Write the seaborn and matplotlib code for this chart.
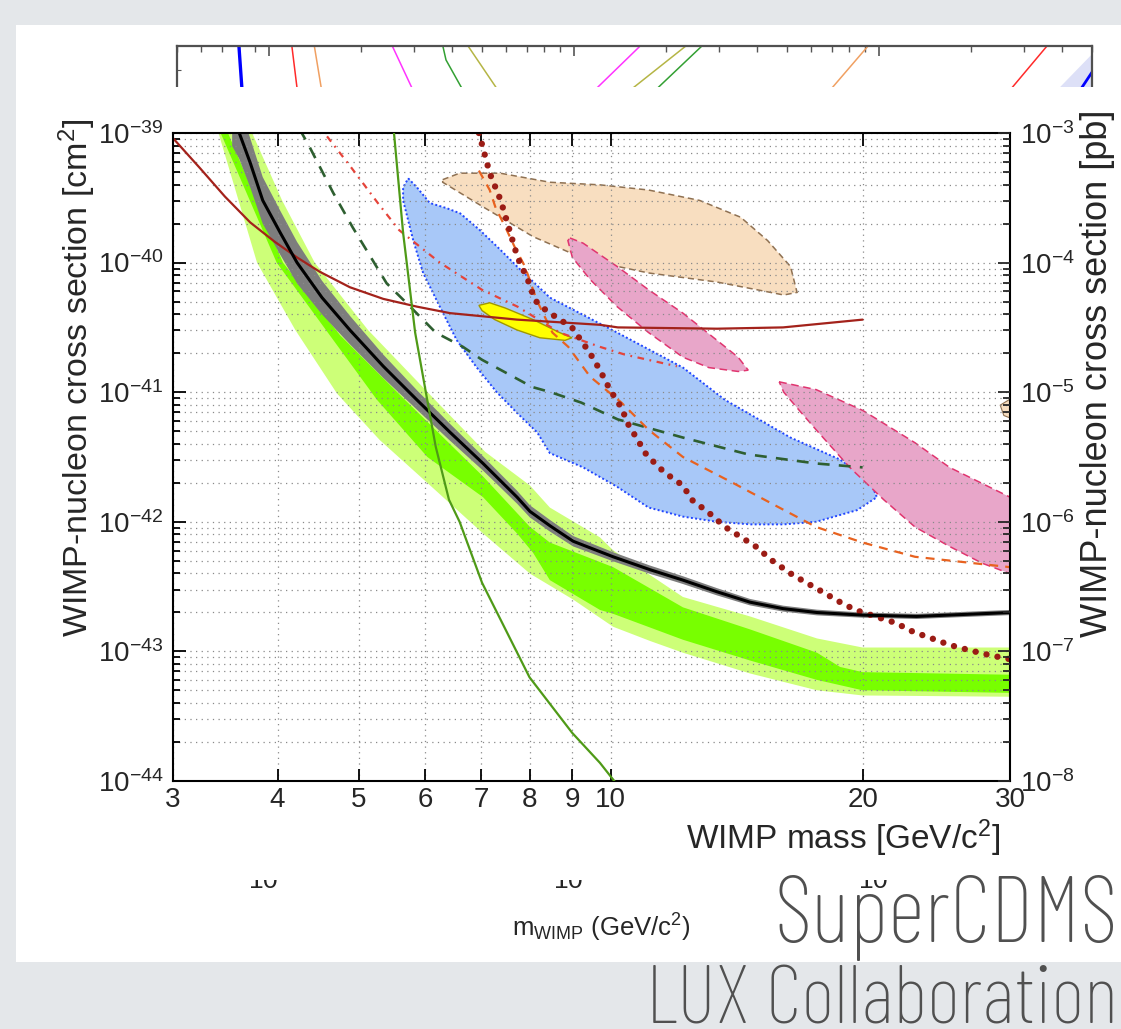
import numpy as np
import matplotlib
matplotlib.use("Agg")
import matplotlib.pyplot as plt
import matplotlib.ticker as mticker
from matplotlib.patches import Rectangle
from matplotlib import font_manager as fm
import seaborn as sns

# ------------------------------------------------------------------ data
X_TICKS = [3, 4, 5, 6, 7, 8, 9, 10, 20, 30]
Y_EXP_CM2 = [-44, -43, -42, -41, -40, -39]
Y_EXP_PB = [-8, -7, -6, -5, -4, -3]

# LUX-like limit (black) and its grey band half-width (decades)
LUX_M = [3.53, 3.60, 3.71, 3.84, 4.03, 4.22, 4.52, 4.88, 5.35, 5.87, 6.43, 7.04, 7.73, 8.01, 8.46, 9.02, 10.07, 11.15, 12.2, 13.4, 14.67, 16.07, 17.64, 20.0, 23.2, 30.0, 31.7]
LUX_LOG = [-38.90, -39.0, -39.23, -39.52, -39.77, -40.0, -40.27, -40.52, -40.80, -41.06, -41.31, -41.55, -41.81, -41.92, -42.03, -42.15, -42.27, -42.37, -42.45, -42.54, -42.62, -42.67, -42.70, -42.72, -42.73, -42.70, -42.70]
LUX_HW = [0.2, 0.2, 0.19, 0.18, 0.17, 0.16, 0.13, 0.11, 0.09, 0.075, 0.065, 0.055, 0.05, 0.047, 0.045, 0.04, 0.035, 0.032, 0.03, 0.028, 0.025, 0.023, 0.022, 0.02, 0.02, 0.02, 0.02]

# expected-sensitivity bands (light = 2 sigma, bright = 1 sigma)
LIGHT_UP_M = [3.67, 3.73, 4.05, 4.43, 5.13, 6.17, 7.08, 8.01, 8.46, 9.71, 10.07, 12.2, 14.67, 17.64, 20.0, 30.0, 31.7]
LIGHT_UP_LOG = [-38.90, -39.0, -39.52, -40.0, -40.52, -41.06, -41.46, -41.72, -41.89, -42.12, -42.22, -42.58, -42.73, -42.90, -42.97, -42.97, -42.97]
LIGHT_LO_M = [3.32, 3.40, 3.78, 4.20, 4.71, 5.30, 6.04, 7.04, 8.01, 9.02, 10.07, 11.15, 12.2, 14.67, 17.64, 20.0, 30.0, 31.7]
LIGHT_LO_LOG = [-38.82, -39.0, -40.0, -40.52, -41.01, -41.37, -41.70, -42.09, -42.40, -42.60, -42.81, -42.92, -43.01, -43.17, -43.30, -43.34, -43.35, -43.35]
BRIGHT_UP_M = [3.43, 3.49, 4.06, 4.75, 5.68, 7.04, 8.01, 8.46, 10.07, 12.2, 14.67, 17.64, 18.8, 20.0, 30.0, 31.7]
BRIGHT_UP_LOG = [-38.90, -39.0, -40.0, -40.56, -41.06, -41.65, -42.04, -42.16, -42.35, -42.66, -42.83, -43.01, -43.12, -43.16, -43.18, -43.18]
BRIGHT_LO_M = [3.37, 3.42, 3.99, 5.26, 6.04, 7.04, 7.73, 8.08, 8.46, 9.71, 10.07, 12.2, 14.67, 17.64, 20.0, 30.0, 31.7]
BRIGHT_LO_LOG = [-38.90, -39.0, -40.0, -41.06, -41.50, -41.81, -42.09, -42.24, -42.45, -42.68, -42.71, -42.91, -43.07, -43.22, -43.30, -43.32, -43.32]

# other limit curves
BROWN_M = [3.0, 3.23, 3.46, 3.71, 3.97, 4.22, 4.49, 4.88, 5.35, 5.87, 6.43, 7.73, 9.71, 10.2, 13.4, 16.07, 20.0]
BROWN_LOG = [-39.04, -39.27, -39.49, -39.69, -39.84, -39.96, -40.07, -40.19, -40.28, -40.34, -40.39, -40.44, -40.48, -40.50, -40.51, -40.50, -40.44]
GREEN_M = [5.45, 5.51, 5.65, 5.84, 6.03, 6.18, 6.41, 6.6, 7.02, 8.0, 9.0, 9.71, 10.1, 10.9]
GREEN_LOG = [-38.8, -39.0, -39.77, -40.54, -41.04, -41.42, -41.83, -42.0, -42.47, -43.20, -43.63, -43.86, -44.0, -44.23]
DKGREEN_M = [4.25, 4.37, 4.66, 4.92, 5.40, 5.70, 6.18, 6.66, 7.02, 8.06, 8.48, 9.22, 10.2, 12.2, 14.6, 17.6, 20.0]
DKGREEN_LOG = [-38.97, -39.11, -39.46, -39.73, -40.16, -40.31, -40.54, -40.65, -40.75, -40.96, -41.0, -41.08, -41.21, -41.35, -41.48, -41.55, -41.58]
REDDD_M = [4.45, 4.55, 4.89, 5.27, 5.59, 6.25, 7.02, 7.74, 8.69, 9.71, 10.4, 12.0]
REDDD_LOG = [-38.9, -39.0, -39.26, -39.54, -39.75, -40.0, -40.21, -40.34, -40.54, -40.65, -40.71, -40.80]
ORANGE_M = [6.96, 7.17, 7.29, 7.49, 7.68, 7.9, 8.16, 8.52, 8.9, 9.45, 10.3, 11.1, 12.2, 14.0, 15.9, 17.6, 20, 23.1, 30]
ORANGE_LOG = [-39.29, -39.44, -39.58, -39.73, -39.88, -40.03, -40.29, -40.54, -40.65, -40.88, -41.08, -41.29, -41.50, -41.70, -41.89, -42.04, -42.16, -42.27, -42.35]
DOTS_M = [6.96, 7.17, 7.39, 7.58, 7.74, 7.96, 8.12, 8.3, 8.6, 8.99, 9.45, 9.71, 9.98, 10.3, 10.5, 10.8, 11.0, 11.3, 11.6, 12.2, 12.5, 13.1, 13.7, 14.9, 15.6, 16.5, 17.9, 18.8, 19.6, 20.7, 21.9, 23.0, 24.2, 25.4, 26.8, 28.4, 30]
DOTS_LOG = [-39.0, -39.31, -39.52, -39.76, -39.96, -40.13, -40.29, -40.35, -40.42, -40.50, -40.70, -40.83, -40.98, -41.12, -41.25, -41.38, -41.47, -41.55, -41.62, -41.72, -41.83, -41.93, -42.04, -42.19, -42.30, -42.41, -42.54, -42.62, -42.68, -42.73, -42.78, -42.85, -42.90, -42.95, -42.99, -43.03, -43.06]

# signal regions (closed contours)
TAN_M = [6.30, 6.6, 7.38, 8.46, 9.71, 11.1, 12.77, 14.3, 15.4, 16.4, 16.7, 16.1, 14.7, 13.4, 11.1, 9.37, 8.08, 7.04, 6.30]
TAN_LOG = [-39.36, -39.31, -39.31, -39.38, -39.40, -39.44, -39.52, -39.65, -39.83, -40.03, -40.23, -40.25, -40.20, -40.15, -40.08, -39.98, -39.80, -39.57, -39.38]
BLUE_M = [5.73, 5.87, 6.08, 6.37, 6.61, 6.98, 7.38, 7.73, 8.46, 10.18, 12.2, 13.7, 16.4, 18.8, 20.4, 20.8, 19.7, 17.6, 16.1, 14.7, 13.4, 12.2, 11.1, 10.18, 9.27, 8.46, 8.17, 7.73, 7.31, 6.92, 6.55, 6.25, 5.97, 5.81, 5.65, 5.65]
BLUE_LOG = [-39.35, -39.42, -39.54, -39.58, -39.62, -39.75, -39.90, -40.03, -40.27, -40.54, -40.81, -41.06, -41.35, -41.52, -41.68, -41.81, -41.91, -42.00, -42.02, -42.02, -42.00, -41.96, -41.89, -41.73, -41.58, -41.47, -41.31, -41.16, -41.0, -40.81, -40.60, -40.34, -40.08, -39.83, -39.52, -39.42]
PINK1_M = [8.94, 9.27, 10.18, 11.1, 12.2, 13.4, 14.2, 14.6, 14.2, 13.1, 12.2, 11.1, 10.18, 9.45, 9.0, 8.89]
PINK1_LOG = [-39.81, -39.85, -40.03, -40.21, -40.39, -40.60, -40.73, -40.83, -40.84, -40.81, -40.73, -40.54, -40.34, -40.13, -39.96, -39.83]
PINK2_M = [15.9, 17.6, 20.0, 23.1, 25.4, 30.0, 31.9, 31.9, 30.0, 27.8, 25.4, 23.1, 21.2, 19.3, 17.6, 16.8, 16.1]
PINK2_LOG = [-40.92, -40.98, -41.14, -41.39, -41.58, -41.81, -41.89, -42.46, -42.40, -42.32, -42.19, -42.04, -41.83, -41.58, -41.29, -41.14, -41.0]
YELLOW_M = [6.96, 7.17, 7.48, 8.08, 8.69, 8.99, 8.82, 8.23, 7.73, 7.27, 7.02]
YELLOW_LOG = [-40.33, -40.31, -40.35, -40.44, -40.54, -40.58, -40.60, -40.58, -40.52, -40.44, -40.37]
TAN2_M = [29.2, 30.6, 30.6, 29.5]
TAN2_LOG = [-41.10, -41.02, -41.22, -41.18]

# background (partly hidden) plot: visible line pieces near its top
BK_Y = [1.0, 0.946]
BK_Y3 = [1.0, 0.983, 0.946]
BK_BLUE_M = [7.98, 8.17]
BK_RED_M = [11.9, 12.4]
BK_ORANGE_M = [14.1, 14.9]
BK_MAGENTA_M = [25.4, 29.7]
BK_GREEN_M = [37.2, 38.1, 43.3]
BK_OLIVE_M = [45.0, 56.4]
BK_MAGENTA2_M = [165, 117]
BK_OLIVE2_M = [233, 153]
BK_GREEN2_M = [263, 185]
BK_ORANGE2_M = [922, 692]
BK_RED2_M = [3560, 2690]
BK_BLUEFILL_M = [3840, 5000, 5000]
BK_BLUEFILL_Y = [0.946, 0.99, 0.946]
BK_BLUELINE_M = [5000, 4570]
BK_BLUELINE_Y = [0.968, 0.946]

# ------------------------------------------------------------------ fonts
names = sorted({f.name for f in fm.fontManager.ttflist})
def pick(cands, default):
    for c in cands:
        if c in names:
            return c
    return default
MAIN_FONT = pick(['Liberation Sans', 'Arial', 'DejaVu Sans'], 'DejaVu Sans')
COND_FONT = pick(['Barlow Condensed', 'Roboto Condensed', 'Liberation Sans Narrow'], MAIN_FONT)

sns.set_style("white")
plt.rcParams['font.family'] = [MAIN_FONT, 'DejaVu Sans']
plt.rcParams['mathtext.fontset'] = 'custom'
plt.rcParams['mathtext.rm'] = MAIN_FONT
plt.rcParams['mathtext.it'] = MAIN_FONT + ':italic'
plt.rcParams['mathtext.bf'] = MAIN_FONT + ':bold'
plt.rcParams['mathtext.default'] = 'regular'

W, H = 1121, 1029
fig = plt.figure(figsize=(W / 100, H / 100), dpi=100, facecolor='#e4e7ea')
def fx(px): return px / W
def fy(py): return 1 - py / H

fig.add_artist(Rectangle((fx(16), fy(962)), fx(1121) - fx(16), fy(25) - fy(962),
                         transform=fig.transFigure, facecolor='white', edgecolor='none', zorder=-5))

# ------------------------------------------------------------------ background plot
bx = fig.add_axes([fx(177), fy(865), fx(1092) - fx(177), fy(46) - fy(865)], zorder=0)
bx.set_xscale('log')
bx.set_xlim(5, 5000)
bx.set_ylim(0, 1)
bx.fill(BK_BLUEFILL_M, BK_BLUEFILL_Y, facecolor='#dde0f7', edgecolor='none')
for mm, yy, col, lw in [(BK_BLUE_M, BK_Y, '#0000ff', 2.4), (BK_RED_M, BK_Y, '#ff2a2a', 1.1),
                        (BK_ORANGE_M, BK_Y, '#f0a062', 1.1), (BK_MAGENTA_M, BK_Y, '#ff33ff', 1.1),
                        (BK_GREEN_M, BK_Y3, '#33a033', 1.1), (BK_OLIVE_M, BK_Y, '#b5b545', 1.1),
                        (BK_MAGENTA2_M, BK_Y, '#ff33ff', 1.1), (BK_OLIVE2_M, BK_Y, '#b5b545', 1.1),
                        (BK_GREEN2_M, BK_Y, '#33a033', 1.1), (BK_ORANGE2_M, BK_Y, '#f0a062', 1.1),
                        (BK_RED2_M, BK_Y, '#ff2a2a', 1.1), (BK_BLUELINE_M, BK_BLUELINE_Y, '#0000ff', 2.0)]:
    sns.lineplot(x=mm, y=yy, ax=bx, color=col, linewidth=lw, estimator=None, sort=False, legend=False)
bx.set_xlabel('')
bx.set_ylabel('')
for sname in ['top', 'left', 'right']:
    bx.spines[sname].set_color('#505050')
    bx.spines[sname].set_linewidth(1.6)
bx.spines['bottom'].set_visible(False)
bx.set_yticks([0.971])
bx.set_yticklabels([])
bx.tick_params(axis='y', direction='in', left=True, right=True, length=3, color='#555555')
bx.tick_params(axis='x', which='both', direction='in', top=True, bottom=False, labelsize=19, pad=1.5, color='#555555')
bx.tick_params(axis='x', which='major', length=7, width=1.2)
bx.tick_params(axis='x', which='minor', length=4, width=1.0)
fig.text(fx(601), fy(928), r'$m_{WIMP}$ (GeV/c$^2$)', ha='center', va='center', fontsize=18.5)

# white cover for the front plot
fig.add_artist(Rectangle((fx(150), fy(880)), fx(1110) - fx(150), fy(87) - fy(880),
                         transform=fig.transFigure, facecolor='white', edgecolor='none', zorder=1))

# ------------------------------------------------------------------ front plot
ax = fig.add_axes([fx(173), fy(781), fx(1010) - fx(173), fy(133) - fy(781)], zorder=2)
ax.set_xscale('log')
ax.set_yscale('log')
ax.set_xlim(3, 30)
ax.set_ylim(1e-44, 1e-39)
ax.set_facecolor('white')

def s(v):
    return 10.0 ** np.asarray(v, dtype=float)

# bands
ax.fill(LIGHT_UP_M + LIGHT_LO_M[::-1], s(LIGHT_UP_LOG + LIGHT_LO_LOG[::-1]), facecolor='#cdff78', edgecolor='none', zorder=1.0)
ax.fill(BRIGHT_UP_M + BRIGHT_LO_M[::-1], s(BRIGHT_UP_LOG + BRIGHT_LO_LOG[::-1]), facecolor='#78ff00', edgecolor='none', zorder=1.05)
lux = np.asarray(LUX_LOG)
hw = np.asarray(LUX_HW)
ax.fill_between(LUX_M, s(lux - hw), s(lux + hw), facecolor='#7d7d7d', edgecolor='none', zorder=1.1)

# regions
ax.fill(TAN_M, s(TAN_LOG), facecolor='#f8dec0', edgecolor='#8f7152', linestyle=(0, (4, 2.5)), linewidth=1.1, zorder=1.2)
ax.fill(TAN2_M, s(TAN2_LOG), facecolor='#f8dec0', edgecolor='#8f7152', linewidth=0.8, zorder=1.2)
ax.fill(BLUE_M, s(BLUE_LOG), facecolor='#a8c8f8', edgecolor='#2045ff', linestyle=(0, (1, 1.2)), linewidth=1.4, zorder=1.2)
ax.fill(PINK1_M, s(PINK1_LOG), facecolor='#e8a6c9', edgecolor='#e0356f', linestyle=(0, (5, 3)), linewidth=1.1, zorder=1.25)
ax.fill(PINK2_M, s(PINK2_LOG), facecolor='#e8a6c9', edgecolor='#e0356f', linestyle=(0, (5, 3)), linewidth=1.1, zorder=1.25)

# grid
ax.set_axisbelow('line')
ax.grid(which='major', axis='both', color='#8a8a8a', linestyle=(0, (1, 3.5)), linewidth=0.9)
ax.grid(which='minor', axis='y', color='#8a8a8a', linestyle=(0, (1, 3.5)), linewidth=0.9)

# yellow region above grid
ax.fill(YELLOW_M, s(YELLOW_LOG), facecolor='#ffff00', edgecolor='#a09800', linewidth=1.0, zorder=1.9)

# limit curves
line_kw = dict(ax=ax, estimator=None, sort=False, legend=False)
sns.lineplot(x=DKGREEN_M, y=s(DKGREEN_LOG), color='#2e5f30', linewidth=1.9, linestyle=(0, (4.5, 3.5)), zorder=2.1, **line_kw)
sns.lineplot(x=REDDD_M, y=s(REDDD_LOG), color='#e5443a', linewidth=1.6, linestyle=(0, (3, 2.5, 0.8, 2.5)), zorder=2.1, **line_kw)
sns.lineplot(x=ORANGE_M, y=s(ORANGE_LOG), color='#e8621f', linewidth=1.6, linestyle=(0, (4, 3.2)), zorder=2.2, **line_kw)
sns.lineplot(x=BROWN_M, y=s(BROWN_LOG), color='#a3221b', linewidth=1.6, zorder=2.3, **line_kw)
sns.lineplot(x=DOTS_M, y=s(DOTS_LOG), color='#9b1c15', linewidth=4.6, linestyle=(0, (0.001, 1.75)),
             dash_capstyle='round', zorder=2.4, **line_kw)
sns.lineplot(x=LUX_M, y=s(LUX_LOG), color='black', linewidth=2.2, zorder=2.6, **line_kw)
sns.lineplot(x=GREEN_M, y=s(GREEN_LOG), color='#4f9a17', linewidth=1.6, zorder=2.7, **line_kw)

ax.set_xlim(3, 30)
ax.set_ylim(1e-44, 1e-39)

# ticks
ax.set_xticks(X_TICKS)
ax.set_xticklabels([str(t) for t in X_TICKS])
ax.xaxis.set_minor_locator(mticker.NullLocator())
ax.set_yticks([10.0 ** e for e in Y_EXP_CM2])
ax.set_yticklabels([r'$10^{%d}$' % e for e in Y_EXP_CM2])
ax.yaxis.set_minor_locator(mticker.LogLocator(base=10, subs=np.arange(2, 10), numticks=50))
ax.yaxis.set_minor_formatter(mticker.NullFormatter())
ax.tick_params(which='both', direction='in', top=True, bottom=True, left=True, right=False,
               width=1.3, color='black', labelsize=20)
ax.tick_params(axis='x', which='major', length=9, pad=4)
ax.tick_params(axis='y', which='major', length=9, pad=7)
ax.tick_params(axis='y', which='minor', length=5)
for sp in ax.spines.values():
    sp.set_color('black')
    sp.set_linewidth(1.5)

ax2 = ax.twinx()
ax2.set_zorder(3)
ax2.patch.set_visible(False)
ax2.set_yscale('log')
ax2.set_ylim(1e-8, 1e-3)
ax2.set_yticks([10.0 ** e for e in Y_EXP_PB])
ax2.set_yticklabels([r'$10^{%d}$' % e for e in Y_EXP_PB])
ax2.yaxis.set_minor_locator(mticker.LogLocator(base=10, subs=np.arange(2, 10), numticks=50))
ax2.yaxis.set_minor_formatter(mticker.NullFormatter())
ax2.tick_params(which='both', direction='in', right=True, left=False, width=1.3, labelsize=20)
ax2.tick_params(which='major', length=9, pad=7)
ax2.tick_params(which='minor', length=5)
for sp in ax2.spines.values():
    sp.set_visible(False)

ax.set_xlabel('WIMP mass [GeV/c$^2$]', fontsize=24)
ax.xaxis.set_label_coords(0.988, -0.088)
ax.xaxis.label.set_ha('right')
ax.xaxis.label.set_va('center')
ax.set_ylabel('WIMP-nucleon cross section [cm$^2$]', fontsize=24.5)
ax.yaxis.set_label_coords(-0.1147, 0.623)
ax.yaxis.label.set_va('center')
ax2.set_ylabel('WIMP-nucleon cross section [pb]', fontsize=26, rotation=90)
ax2.yaxis.set_label_coords(1.105, 0.630)
ax2.yaxis.label.set_va('center')
ax2.yaxis.label.set_ha('center')

# ------------------------------------------------------------------ slide captions
fig.text(fx(1118), fy(942), 'SuperCDMS', ha='right', va='baseline', fontsize=67,
         color='#505050', family=[COND_FONT, 'DejaVu Sans'], fontweight='light', zorder=5)
fig.text(fx(1118), fy(1024), 'LUX Collaboration', ha='right', va='baseline', fontsize=59,
         color='#505050', family=[COND_FONT, 'DejaVu Sans'], fontweight='light', zorder=5)

fig.savefig('out.png', dpi=100, facecolor=fig.get_facecolor())
